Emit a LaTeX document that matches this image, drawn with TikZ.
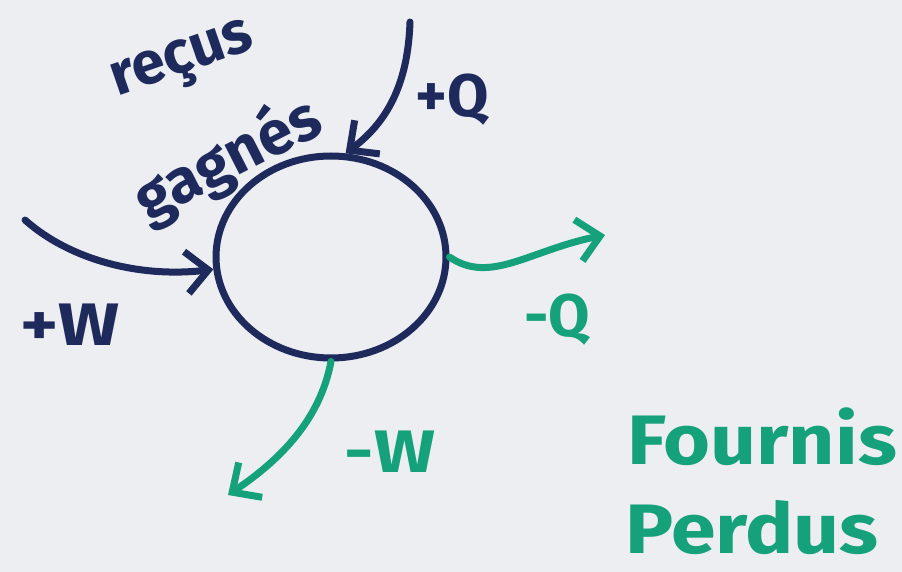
\documentclass[tikz,border=0pt]{standalone}
\usepackage{fontspec}
\setmainfont{Fira Sans}
\usetikzlibrary{arrows.meta,shapes.geometric}
\definecolor{navy}{HTML}{1E2A5C}
\definecolor{vert}{HTML}{15A27B}
\definecolor{papier}{HTML}{ECEEF2}
\begin{document}
\begin{tikzpicture}[x=1pt,y=-1pt,
  trait/.style={line width=7pt,line cap=round,-{Straight Barb[length=22pt,width=42pt,line width=7pt]}},
  txt/.style={inner sep=0pt,font=\bfseries\fontsize{60}{64}\selectfont},
  txtbig/.style={inner sep=0pt,xscale=1.15,font=\bfseries\fontsize{70}{74}\selectfont}]
\fill[papier] (0,0) rectangle (902,572);
\useasboundingbox (0,0) rectangle (902,572);
\node[ellipse,draw=navy,line width=7pt,minimum width=230pt,minimum height=202pt,inner sep=0pt] (sys) at (331,257) {};
\coordinate (qin) at (410,22);
\coordinate (win) at (25,220);
\coordinate (qout) at (605,235);
\coordinate (wout) at (228,495);
\draw[trait,navy] (qin) .. controls (408,80) and (390,120) .. (sys.82);
\draw[trait,navy] (win) .. controls (70,260) and (140,278) .. (sys.186);
\draw[trait,vert] (sys.east) .. controls (490,285) and (530,250) .. (qout);
\draw[trait,vert] (sys.south) .. controls (320,420) and (280,460) .. (wout);
\node[txt,navy,rotate=19,font=\bfseries\fontsize{60}{64}\selectfont] (recus) at (184,64) {reçus};
\node[txt,navy,rotate=27,font=\bfseries\fontsize{62}{66}\selectfont] (gagnes) at (228,160) {gagnés};
\node[txt,navy] (pq) at (452,100) {+Q};
\node[txt,navy,xscale=1.2] (pw) at (70,325) {+W};
\node[txt,vert] (mq) at (557,320) {-Q};
\node[txt,vert,xscale=1.2] (mw) at (390,452) {-W};
\node[txtbig,vert] (fournis) at (762,437) {Fournis};
\node[txtbig,vert] (perdus) at (752,528) {Perdus};
\end{tikzpicture}
\end{document}
